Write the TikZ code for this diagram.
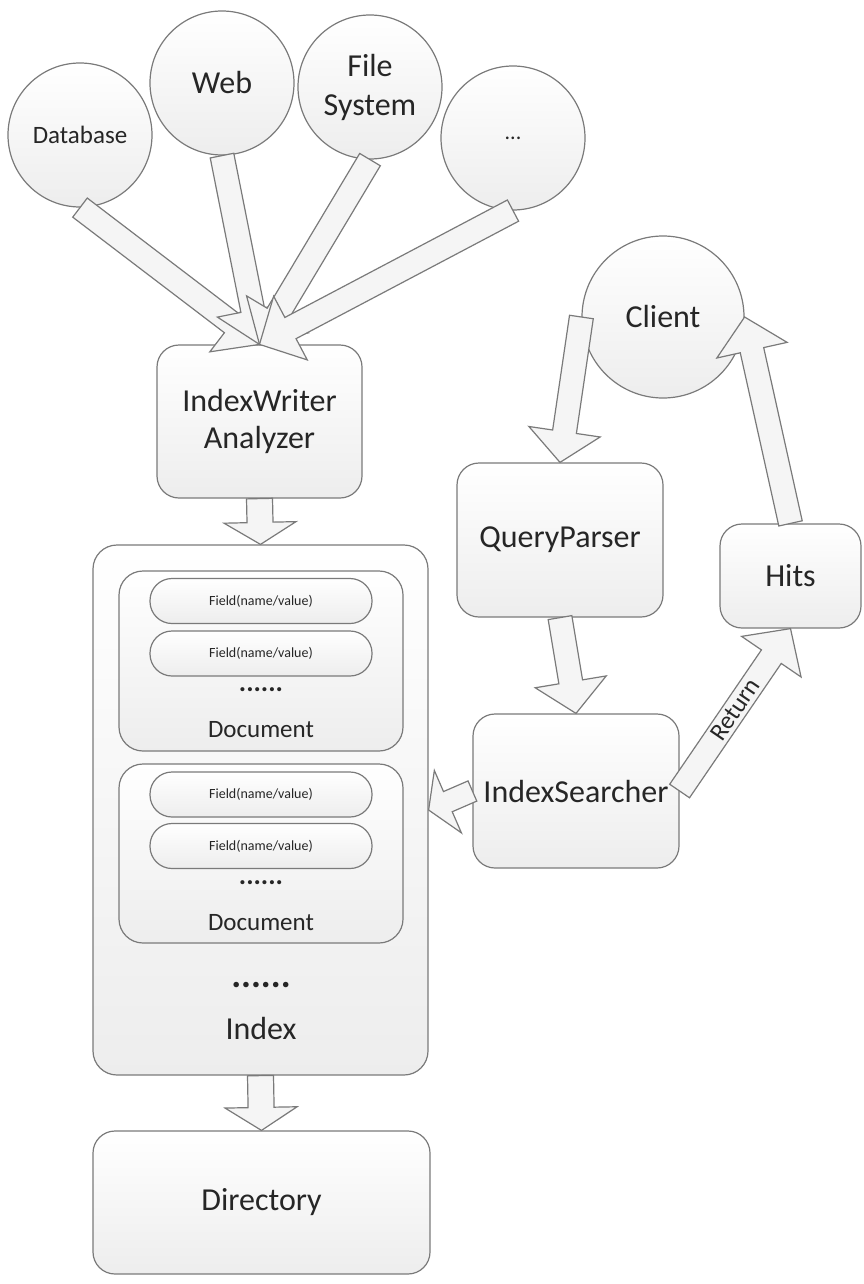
\documentclass[tikz,border=0pt]{standalone}
\usepackage{fontspec}
\setmainfont{Carlito}
\usetikzlibrary{calc}
\definecolor{EdgeGray}{HTML}{7A7A7A}
\definecolor{TextGray}{HTML}{262626}

% block arrow: [opts]{tail}{tip}{half shaft}{half head}{head length}
\newcommand{\blockarrow}[6][]{%
  \coordinate (ba-t) at (#2);
  \coordinate (ba-p) at (#3);
  \coordinate (ba-h) at ($(ba-p)!#6!(ba-t)$);
  \draw[blockarr,#1] ($(ba-t)!#4!90:(ba-p)$) -- ($(ba-h)!#4!-90:(ba-t)$)
    -- ($(ba-h)!#5!-90:(ba-t)$) -- (ba-p) -- ($(ba-h)!#5!90:(ba-t)$)
    -- ($(ba-h)!#4!90:(ba-t)$) -- ($(ba-t)!#4!-90:(ba-p)$) -- cycle;
}

\begin{document}
\begin{tikzpicture}[x=0.5pt,y=-0.5pt,
    every node/.style={text=TextGray,inner sep=0pt},
    big/.style={font=\fontsize{16}{18.5}\selectfont},
    small/.style={font=\fontsize{12.5}{15}\selectfont},
    shade/.style={draw=EdgeGray,line width=0.6pt,top color=white,bottom color=black!7},
    src/.style={circle,shade,minimum size=72pt},
    box/.style={rectangle,shade,rounded corners=11pt,align=center},
    field/.style={rectangle,shade,rounded corners=11pt,minimum width=111pt,
      minimum height=22.5pt,font=\fontsize{7}{8}\selectfont},
    dots/.style={font=\bfseries\fontsize{13.75}{15}\selectfont},
    blockarr/.style={draw=EdgeGray,line width=0.6pt,fill=black!4,line join=miter}]
  \useasboundingbox (0,0) rectangle (863,1284);

  % data sources
  \node[src,small] (db) at (80,135) {Database};
  \node[src,big] (web) at (222,83) {Web};
  \node[src,align=center,font=\fontsize{16}{19.5}\selectfont] (fs) at (370,87) {File\\System};
  \node[src,font=\fontsize{11}{13}\selectfont] (more) at (513,138) {...};

  % indexing side
  \node[box,big,minimum width=102.5pt,minimum height=76.5pt] (iw) at (259.5,421.5) {IndexWriter\\Analyzer};
  \node[box,rounded corners=12pt,minimum width=167.5pt,minimum height=265pt] (index) at (260.5,810) {};
  \node[box,rounded corners=12pt,minimum width=142pt,minimum height=90pt] (doc1) at (261,661) {};
  \node[field] (f1) at (261,601) {Field(name/value)};
  \node[field] (f2) at (261,653.5) {Field(name/value)};
  \node[dots] (dots1) at (261,690) {......};
  \node[small] (doc1lbl) at (261,730) {Document};
  \node[box,rounded corners=12pt,minimum width=142pt,minimum height=89.5pt] (doc2) at (261,853.5) {};
  \node[field] (f3) at (261,794.5) {Field(name/value)};
  \node[field] (f4) at (261,846) {Field(name/value)};
  \node[dots] (dots2) at (261,883) {......};
  \node[small] (doc2lbl) at (261,923) {Document};
  \node[dots,font=\bfseries\fontsize{18.5}{20}\selectfont] (dots3) at (261,985) {......};
  \node[big] (indexlbl) at (261,1028) {Index};
  \node[box,big,minimum width=168.5pt,minimum height=71.5pt] (dir) at (261.5,1202.5) {Directory};

  % search side
  \node[src,big,minimum size=81pt] (client) at (663,317) {Client};
  \node[box,big,minimum width=103pt,minimum height=77pt] (qp) at (560,540) {QueryParser};
  \node[box,big,minimum width=70.5pt,minimum height=52pt] (hits) at (790.5,576) {Hits};
  \node[box,big,minimum width=103pt,minimum height=77pt] (is) at (576,791) {IndexSearcher};

  % arrows
  \blockarrow{db.south}{iw.north}{6pt}{18pt}{17.5pt}
  \blockarrow{web.south}{iw.north}{6pt}{18pt}{17.5pt}
  \blockarrow{fs.south}{iw.north}{6pt}{18pt}{17.5pt}
  \blockarrow{more.south}{iw.north}{6pt}{18pt}{17.5pt}
  \blockarrow{iw.south}{index.north}{6.5pt}{18pt}{11pt}
  \blockarrow{index.south}{dir.north}{6.5pt}{18pt}{11.5pt}
  \blockarrow{client.west}{qp.north}{6pt}{18pt}{15.5pt}
  \blockarrow{qp.south}{is.north}{6pt}{18pt}{16pt}
  \blockarrow{is.west}{index.east}{5.5pt}{17pt}{10.5pt}
  \blockarrow{is.east}{hits.south}{6pt}{18pt}{17pt}
  \blockarrow{hits.north}{client.east}{6pt}{18pt}{17pt}
  \path (is.east) -- (hits.south) node[midway,sloped,font=\fontsize{12.5}{15}\selectfont] (ret) {Return};
\end{tikzpicture}
\end{document}
